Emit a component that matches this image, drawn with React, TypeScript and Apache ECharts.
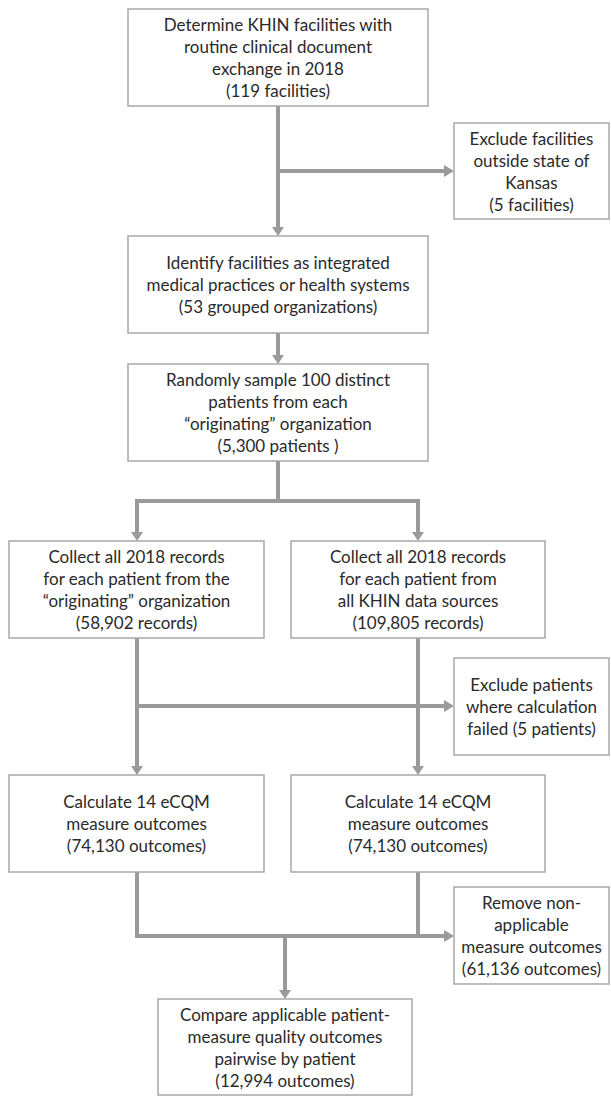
import React, { useEffect, useRef } from "react";
import * as echarts from "echarts";

// Box texts (content of the flowchart)
const mainSteps: string[][] = [
  ["Determine KHIN facilities with", "routine clinical document", "exchange in 2018", "(119 facilities)"],
  ["Identify facilities as integrated", "medical practices or health systems", "(53 grouped organizations)"],
  ["Randomly sample 100 distinct", "patients from each", "\u201coriginating\u201d organization", "(5,300 patients )"],
];
const collectSteps: string[][] = [
  ["Collect all 2018 records", "for each patient from the", "\u201coriginating\u201d organization", "(58,902 records)"],
  ["Collect all 2018 records", "for each patient from", "all KHIN data sources", "(109,805 records)"],
];
const calcSteps: string[][] = [
  ["Calculate 14 eCQM", "measure outcomes", "(74,130 outcomes)"],
  ["Calculate 14 eCQM", "measure outcomes", "(74,130 outcomes)"],
];
const exclusions: string[][] = [
  ["Exclude facilities", "outside state of", "Kansas", "(5 facilities)"],
  ["Exclude patients", "where calculation", "failed (5 patients)"],
  ["Remove non-", "applicable", "measure outcomes", "(61,136 outcomes)"],
];
const finalStep: string[] = ["Compare applicable patient-", "measure quality outcomes", "pairwise by patient", "(12,994 outcomes)"];

const FONT = "Lato, 'Open Sans', sans-serif";
const FS = 17;
const LH = 22;
const LINE_C = "#9a9a9a";
const BORDER_C = "#a8a8a8";
const TEXT_C = "#2a2a2a";
const LW = 4;

type Box = { x: number; y: number; w: number; h: number; lines: string[] };

function boxEls(b: Box): any[] {
  const els: any[] = [
    {
      type: "rect",
      shape: { x: b.x, y: b.y, width: b.w, height: b.h },
      style: { fill: "#fff", stroke: BORDER_C, lineWidth: 1.5 },
    },
  ];
  const n = b.lines.length;
  const cy = b.y + b.h / 2;
  b.lines.forEach((t, i) => {
    els.push({
      type: "text",
      x: b.x + b.w / 2,
      y: cy + (i - (n - 1) / 2) * LH,
      style: {
        text: t,
        fill: TEXT_C,
        font: `${FS}px ${FONT}`,
        align: "center",
        verticalAlign: "middle",
      },
    });
  });
  return els;
}

function seg(x1: number, y1: number, x2: number, y2: number): any {
  return { type: "line", shape: { x1, y1, x2, y2 }, style: { stroke: LINE_C, lineWidth: LW, lineCap: "butt" } };
}

function arrowDown(x: number, y1: number, tip: number): any[] {
  const hl = 9;
  return [
    seg(x, y1, x, tip - hl + 1),
    { type: "polygon", shape: { points: [[x - 6, tip - hl], [x + 6, tip - hl], [x, tip]] }, style: { fill: LINE_C } },
  ];
}

function arrowRight(x1: number, y: number, tip: number): any[] {
  const hl = 10;
  return [
    seg(x1, y, tip - hl + 1, y),
    { type: "polygon", shape: { points: [[tip - hl, y - 6], [tip - hl, y + 6], [tip, y]] }, style: { fill: LINE_C } },
  ];
}

export default function App() {
  const ref = useRef<HTMLDivElement>(null);
  useEffect(() => {
    if (!ref.current) return;
    const chart = echarts.init(ref.current, undefined, { renderer: "svg" });

    const b1: Box = { x: 128, y: 9, w: 300, h: 97, lines: mainSteps[0] };
    const b2: Box = { x: 128, y: 236, w: 300, h: 97, lines: mainSteps[1] };
    const b3: Box = { x: 128, y: 364, w: 300, h: 97, lines: mainSteps[2] };
    const cL: Box = { x: 9, y: 541, w: 255, h: 97, lines: collectSteps[0] };
    const cR: Box = { x: 291, y: 541, w: 254, h: 97, lines: collectSteps[1] };
    const kL: Box = { x: 9, y: 775, w: 255, h: 97, lines: calcSteps[0] };
    const kR: Box = { x: 291, y: 775, w: 254, h: 97, lines: calcSteps[1] };
    const e1: Box = { x: 454, y: 123, w: 155, h: 96, lines: exclusions[0] };
    const e2: Box = { x: 454, y: 658, w: 155, h: 97, lines: exclusions[1] };
    const e3: Box = { x: 454, y: 887, w: 155, h: 97, lines: exclusions[2] };
    const fb: Box = { x: 158, y: 999, w: 254, h: 96, lines: finalStep };

    const cx = 278;
    const lx = 137;
    const rx = 418;
    const fx = 285;

    const elements: any[] = [
      // top spine
      ...arrowDown(cx, 106, 236),
      ...arrowRight(cx, 171, 454),
      ...arrowDown(cx, 333, 364),
      // split
      seg(cx, 461, cx, 501 + LW / 2),
      seg(lx - LW / 2, 501, rx + LW / 2, 501),
      ...arrowDown(lx, 501, 541),
      ...arrowDown(rx, 501, 541),
      // collect -> calc
      ...arrowDown(lx, 638, 775),
      ...arrowDown(rx, 638, 775),
      ...arrowRight(lx, 706, 454),
      // calc -> merge
      seg(lx, 872, lx, 936 + LW / 2),
      seg(rx, 872, rx, 936),
      ...arrowRight(lx - LW / 2, 936, 454),
      ...arrowDown(fx, 936, 999),
      ...[b1, b2, b3, cL, cR, kL, kR, e1, e2, e3, fb].flatMap(boxEls),
    ];

    chart.setOption({
      animation: false,
      backgroundColor: "#ffffff",
      graphic: { elements },
    });
    return () => chart.dispose();
  }, []);
  return <div ref={ref} style={{ position: "absolute", left: 0, top: 0, width: 611, height: 1097 }} />;
}
